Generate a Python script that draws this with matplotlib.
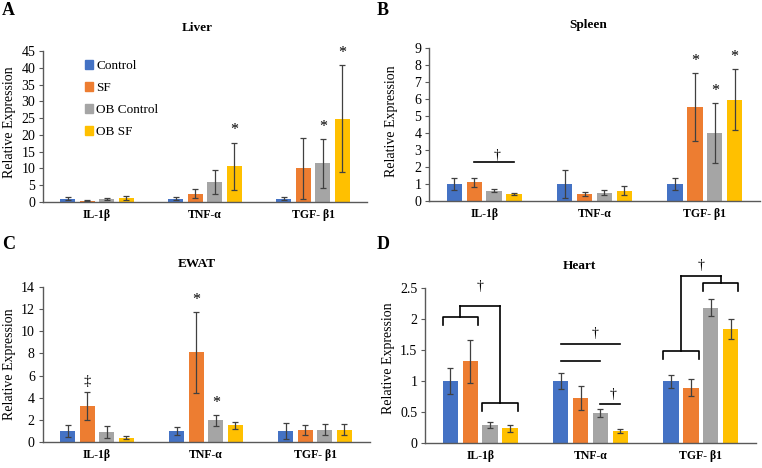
import numpy as np
import matplotlib
matplotlib.use("Agg")
import matplotlib.pyplot as plt
from matplotlib.patches import Patch
from matplotlib.ticker import MultipleLocator, FuncFormatter

plt.rcParams["font.family"] = ["Liberation Serif", "DejaVu Serif"]

groups = ["Control", "SF", "OB Control", "OB SF"]
genes = ["IL-1β", "TNF-α", "TGF- β1"]
colors = ["#4472C4", "#ED7D31", "#A5A5A5", "#FFC000"]

# one row per gene, columns follow `groups`
liver_mean = [[1.0, 0.4, 1.0, 1.3], [1.0, 2.5, 6.0, 10.6], [1.0, 10.0, 11.5, 24.8]]
liver_err = [[0.5, 0.2, 0.3, 0.6], [0.5, 1.4, 3.6, 7.1], [0.5, 9.0, 7.3, 16.0]]
spleen_mean = [[1.0, 1.08, 0.6, 0.4], [1.0, 0.4, 0.48, 0.6], [1.0, 5.5, 4.0, 5.95]]
spleen_err = [[0.35, 0.28, 0.1, 0.05], [0.82, 0.12, 0.15, 0.28], [0.35, 2.0, 1.75, 1.8]]
ewat_mean = [[1.0, 3.25, 0.9, 0.4], [1.0, 8.1, 1.95, 1.5], [1.0, 1.1, 1.1, 1.1]]
ewat_err = [[0.55, 1.25, 0.55, 0.1], [0.35, 3.65, 0.5, 0.3], [0.72, 0.45, 0.5, 0.5]]
heart_mean = [[1.0, 1.32, 0.3, 0.24], [1.0, 0.73, 0.49, 0.2], [1.0, 0.9, 2.19, 1.84]]
heart_err = [[0.21, 0.35, 0.05, 0.05], [0.13, 0.2, 0.06, 0.03], [0.1, 0.13, 0.13, 0.16]]

# significance marks above error bars: (gene, group, symbol)
liver_marks = [(1, 3, "*"), (2, 2, "*"), (2, 3, "*")]
spleen_marks = [(2, 1, "*"), (2, 2, "*"), (2, 3, "*")]
ewat_marks = [(0, 1, "‡"), (1, 1, "*"), (1, 2, "*")]

# plain lines between bar centres: (gene, first group, last group, height)
spleen_lines = [(0, 1, 3, 2.26)]
heart_lines = [(1, 0, 3, 1.60), (1, 0, 2, 1.33), (1, 2, 3, 0.634)]
# brackets: (gene, left pair height, right pair height, join height)
heart_brackets = [(0, 2.04, 0.645, 2.21), (2, 1.49, 2.58, 2.70)]
# daggers: (gene, x offset, height)
spleen_daggers = [(0, 0.12, 2.3)]
heart_daggers = [(0, 0.0, 2.43), (1, 0.04, 1.66), (1, 0.2, 0.69), (2, 0.0, 2.77)]

BAR_W = 0.14
STEP = 0.18
AX_COLOR = "#595959"


def xpos(gene, group):
    return gene + (group - 1.5) * STEP


def draw_panel(ax, mean, err, ymax, ystep):
    mean = np.array(mean)
    err = np.array(err)
    x = np.arange(len(genes))
    for k, name in enumerate(groups):
        ax.bar(x + (k - 1.5) * STEP, mean[:, k], BAR_W, color=colors[k], label=name,
               yerr=err[:, k], error_kw=dict(ecolor="#404040", elinewidth=0.9,
                                             capsize=2.5, capthick=0.9))
    ax.set_xlim(-0.5, 2.5)
    ax.set_ylim(0, ymax)
    ax.yaxis.set_major_locator(MultipleLocator(ystep))
    ax.yaxis.set_major_formatter(FuncFormatter(lambda v, p: "%g" % v))
    ax.set_xticks(x)
    ax.set_xticklabels(genes, fontweight="bold", fontsize=8.5)
    ax.tick_params(axis="x", length=0, pad=5)
    ax.tick_params(axis="y", length=3, width=0.8, color=AX_COLOR, labelsize=10, pad=2.5)
    for side in ["top", "right"]:
        ax.spines[side].set_visible(False)
    for side in ["left", "bottom"]:
        ax.spines[side].set_color(AX_COLOR)
        ax.spines[side].set_linewidth(1.0)
    ax.set_ylabel("Relative Expression", fontsize=10)


def add_marks(ax, mean, err, marks):
    for g, k, sym in marks:
        top = mean[g][k] + err[g][k]
        ax.annotate(sym, (xpos(g, k), top), xytext=(0, 3), textcoords="offset points",
                    ha="center", va="bottom", fontsize=11.5 if sym == "*" else 10.5)


def add_dagger(ax, g, dx, y):
    ax.text(g + dx, y, "†", ha="center", va="bottom", fontsize=10, clip_on=False)


def add_line(ax, g, a, b, y):
    ax.plot([xpos(g, a), xpos(g, b)], [y, y], color="black", lw=1.2, clip_on=False)


def add_bracket(ax, g, y_left, y_right, y_join, leg_frac=0.05):
    ymax = ax.get_ylim()[1]
    leg = leg_frac * ymax
    centres = []
    for (a, b), y in [((0, 1), y_left), ((2, 3), y_right)]:
        x0 = xpos(g, a) - BAR_W / 2
        x1 = xpos(g, b) + BAR_W / 2
        ax.plot([x0, x0, x1, x1], [y - leg, y, y, y - leg], color="black", lw=1.2,
                clip_on=False)
        c = (x0 + x1) / 2
        ax.plot([c, c], [y, y_join], color="black", lw=1.2, clip_on=False)
        centres.append(c)
    ax.plot(centres, [y_join, y_join], color="black", lw=1.2, clip_on=False)


fig = plt.figure(figsize=(7.62, 4.68), dpi=100)
W, H = 762.0, 468.0

ax_a = fig.add_axes([43 / W, 1 - 202 / H, 324 / W, 151 / H])
ax_b = fig.add_axes([429 / W, 1 - 200.7 / H, 331 / W, 152.7 / H])
ax_c = fig.add_axes([42.5 / W, 1 - 442 / H, 327 / W, 155 / H])
ax_d = fig.add_axes([425 / W, 1 - 443.3 / H, 331 / W, 155 / H])

draw_panel(ax_a, liver_mean, liver_err, 45, 5)
add_marks(ax_a, liver_mean, liver_err, liver_marks)

draw_panel(ax_b, spleen_mean, spleen_err, 9, 1)
add_marks(ax_b, spleen_mean, spleen_err, spleen_marks)
for g, a, b, y in spleen_lines:
    add_line(ax_b, g, a, b, y)
for g, dx, y in spleen_daggers:
    add_dagger(ax_b, g, dx, y)

draw_panel(ax_c, ewat_mean, ewat_err, 14, 2)
add_marks(ax_c, ewat_mean, ewat_err, ewat_marks)

draw_panel(ax_d, heart_mean, heart_err, 2.5, 0.5)
for g, a, b, y in heart_lines:
    add_line(ax_d, g, a, b, y)
for g, yl, yr, yj in heart_brackets:
    add_bracket(ax_d, g, yl, yr, yj)
for g, dx, y in heart_daggers:
    add_dagger(ax_d, g, dx, y)

ax_a.yaxis.set_label_coords(-0.084, 0.53)
ax_b.yaxis.set_label_coords(-0.095, 0.52)
ax_c.yaxis.set_label_coords(-0.08, 0.5)
ax_d.yaxis.set_label_coords(-0.092, 0.55)

handles = [Patch(color=c, label=n) for c, n in zip(colors, groups)]
ax_a.legend(handles=handles, loc="upper left", bbox_to_anchor=(85 / W, 1 - 60 / H),
            bbox_transform=fig.transFigure, frameon=False, fontsize=9.5,
            handlelength=0.6, handleheight=0.6, handletextpad=0.25,
            labelspacing=0.76, borderpad=0, borderaxespad=0)

# panel titles and letters
for x, y, t in [(197, 28, "Liver"), (588, 25, "Spleen"), (197, 264, "EWAT"), (579, 266, "Heart")]:
    fig.text(x / W, 1 - y / H, t, ha="center", va="center", fontsize=9.5, fontweight="bold")
for x, y, t in [(2, 2, "A"), (377, 2, "B"), (2, 236, "C"), (377, 236, "D")]:
    fig.text(x / W, 1 - y / H, t, ha="left", va="top", fontsize=13, fontweight="bold")

fig.savefig("out.png", dpi=100)
plt.close(fig)
